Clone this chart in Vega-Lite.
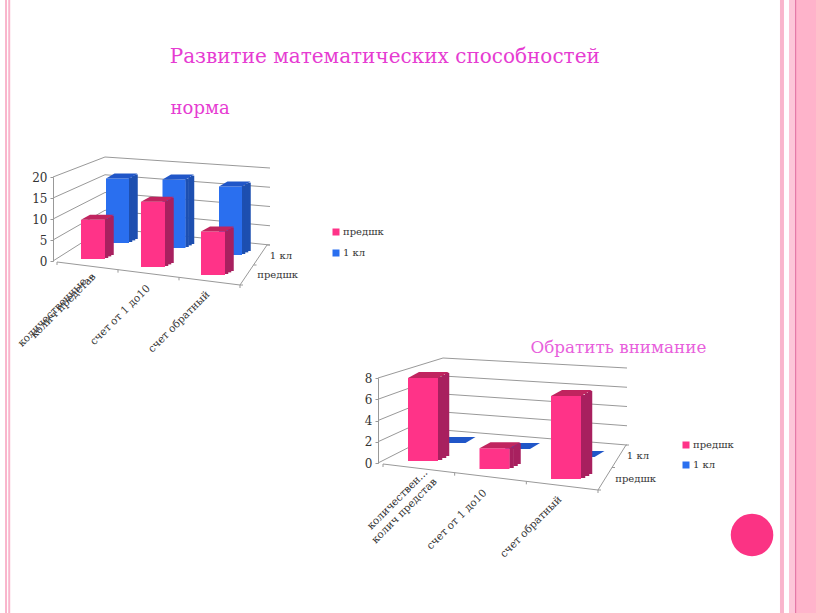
{"$schema":"https://vega.github.io/schema/vega-lite/v6.json","width":816,"height":613,"padding":0,"autosize":"none","background":"white","view":{"stroke":null},
"config":{"font":"DejaVu Serif","axis":{"labelFont":"DejaVu Serif"},"text":{"font":"DejaVu Serif"},"legend":{"labelFont":"DejaVu Serif"}},
"resolve":{"scale":{"x":"independent","y":"independent","color":"independent"},"axis":{"x":"independent","y":"independent"},"legend":{"color":"independent"}},
"datasets":{
"d1":[{"cat":"колич представ","series":"1 кл","value":17},{"cat":"счет от 1 до10","series":"1 кл","value":18},{"cat":"счет обратный","series":"1 кл","value":18},{"cat":"колич представ","series":"предшк","value":9},{"cat":"счет от 1 до10","series":"предшк","value":15},{"cat":"счет обратный","series":"предшк","value":10}],
"d2":[{"cat":"колич представ","series":"1 кл","value":0},{"cat":"счет от 1 до10","series":"1 кл","value":0},{"cat":"счет обратный","series":"1 кл","value":0},{"cat":"колич представ","series":"предшк","value":8},{"cat":"счет от 1 до10","series":"предшк","value":2},{"cat":"счет обратный","series":"предшк","value":8}],
"t1":[{"v":0},{"v":5},{"v":10},{"v":15},{"v":20}],
"t2":[{"v":0},{"v":2},{"v":4},{"v":6},{"v":8}],
"one":[{"k":1}],
"ft":[{"i":0},{"i":1},{"i":2},{"i":3}],
"dt":[{"i":0},{"i":1},{"i":2}],
"l1":[{"cat":"колич представ","label":"количественные...|колич представ"},{"cat":"счет от 1 до10","label":"счет от 1 до10"},{"cat":"счет обратный","label":"счет обратный"}],
"l2":[{"cat":"колич представ","label":"количествен...|колич представ"},{"cat":"счет от 1 до10","label":"счет от 1 до10"},{"cat":"счет обратный","label":"счет обратный"}],
"depth":[{"s":"1 кл"},{"s":"предшк"}]
},
"layer":[
{"data":{"name":"one"},"mark":{"type":"rule","color":"#F9B5CC","strokeWidth":4},"encoding":{"x":{"datum":95.83,"scale":{"domain":[0,100],"range":[0,816]},"axis":null}}},
{"data":{"name":"one"},"mark":{"type":"rule","color":"#FDC6D8","strokeWidth":6},"encoding":{"x":{"datum":97.06,"scale":{"domain":[0,100],"range":[0,816]},"axis":null}}},
{"data":{"name":"one"},"mark":{"type":"rule","color":"#FFB3CB","strokeWidth":21},"encoding":{"x":{"datum":98.8,"scale":{"domain":[0,100],"range":[0,816]},"axis":null}}},
{"data":{"name":"one"},"mark":{"type":"rule","color":"#E57AA8","strokeWidth":1.2},"encoding":{"x":{"datum":97.5,"scale":{"domain":[0,100],"range":[0,816]},"axis":null}}},
{"data":{"name":"one"},"mark":{"type":"rule","color":"#F9B5CC","strokeWidth":2},"encoding":{"x":{"datum":0.74,"scale":{"domain":[0,100],"range":[0,816]},"axis":null}}},
{"data":{"name":"one"},"mark":{"type":"rule","color":"#F9B5CC","strokeWidth":2},"encoding":{"x":{"datum":1.13,"scale":{"domain":[0,100],"range":[0,816]},"axis":null}}},
{"data":{"name":"one"},"mark":{"type":"point","filled":true,"opacity":1,"size":1810,"shape":"circle","color":"#FB3384"},"encoding":{"x":{"datum":92.16,"scale":{"domain":[0,100],"range":[0,816]},"axis":null},"y":{"datum":87.27,"scale":{"domain":[0,100],"range":[0,613]},"axis":null}}},
{"data":{"values":[{"t":"Развитие математических способностей"}]},"mark":{"type":"text","align":"left","baseline":"middle","fontSize":20,"color":"#E63CD2"},"encoding":{"text":{"field":"t"},"x":{"datum":20.8,"scale":{"domain":[0,100],"range":[0,816]},"axis":null},"y":{"datum":9.3,"scale":{"domain":[0,100],"range":[0,613]},"axis":null}}},
{"data":{"values":[{"t":"норма"}]},"mark":{"type":"text","align":"left","baseline":"middle","fontSize":18,"color":"#E63CD2"},"encoding":{"text":{"field":"t"},"x":{"datum":20.9,"scale":{"domain":[0,100],"range":[0,816]},"axis":null},"y":{"datum":17.8,"scale":{"domain":[0,100],"range":[0,613]},"axis":null}}},
{"data":{"values":[{"t":"Обратить внимание"}]},"mark":{"type":"text","align":"left","baseline":"middle","fontSize":16.8,"color":"#E85FDC"},"encoding":{"text":{"field":"t"},"x":{"datum":65.0,"scale":{"domain":[0,100],"range":[0,816]},"axis":null},"y":{"datum":56.8,"scale":{"domain":[0,100],"range":[0,613]},"axis":null}}},

{"data":{"name":"t1"},"mark":{"type":"rule","color":"#999","strokeWidth":1,"y2Offset":{"expr":"-33+0.65*datum.v"}},"encoding":{"x":{"datum":0,"scale":{"domain":[0,1],"range":[53,105]},"axis":null},"x2":{"datum":1},"y":{"field":"v","type":"quantitative","scale":{"domain":[0,20],"range":[261,177]},"axis":{"orient":"left","offset":-53,"values":[0,5,10,15,20],"title":null,"grid":false,"tickSize":3,"tickColor":"#999","domainColor":"#999","labelColor":"#333","labelFontSize":12,"labelPadding":3}},"y2":{"field":"v"}}},
{"data":{"name":"t1"},"mark":{"type":"rule","color":"#999","strokeWidth":1,"y2Offset":{"expr":"17-0.3*datum.v"}},"encoding":{"x":{"datum":0,"scale":{"domain":[0,1],"range":[105,270]},"axis":null},"x2":{"datum":1},"y":{"field":"v","type":"quantitative","scale":{"domain":[0,20],"range":[228,157]},"axis":null},"y2":{"field":"v"}}},
{"data":{"name":"one"},"mark":{"type":"rule","color":"#999","strokeWidth":1},"encoding":{"x":{"datum":0,"scale":{"domain":[0,1],"range":[57,240]},"axis":null},"x2":{"datum":1},"y":{"datum":0,"scale":{"domain":[0,1],"range":[262,285]},"axis":null},"y2":{"datum":1}}},
{"data":{"name":"one"},"mark":{"type":"rule","color":"#999","strokeWidth":1},"encoding":{"x":{"datum":0,"scale":{"domain":[0,1],"range":[240,267]},"axis":null},"x2":{"datum":1},"y":{"datum":0,"scale":{"domain":[0,1],"range":[285,245]},"axis":null},"y2":{"datum":1}}},
{"data":{"name":"ft"},"mark":{"type":"rule","color":"#999","strokeWidth":1,"y2Offset":3},"encoding":{"x":{"field":"i","type":"quantitative","scale":{"domain":[0,3],"range":[57,240]},"axis":null},"y":{"field":"i","type":"quantitative","scale":{"domain":[0,3],"range":[262,285]},"axis":null},"y2":{"field":"i"}}},
{"data":{"name":"dt"},"mark":{"type":"rule","color":"#999","strokeWidth":1,"x2Offset":3},"encoding":{"y":{"field":"i","type":"quantitative","scale":{"domain":[0,2],"range":[285,245]},"axis":null},"x":{"field":"i","type":"quantitative","scale":{"domain":[0,2],"range":[240,267]},"axis":null},"x2":{"field":"i"}}},

{"data":{"name":"d1"},"transform":[{"filter":"datum.series=='1 кл'"}],"mark":{"type":"bar","width":3.5,"color":"#1D4FB0","xOffset":13,"yOffset":{"expr":"-1+(datum.cat=='счет от 1 до10'?5:datum.cat=='счет обратный'?12:0)"},"y2Offset":{"expr":"-1+(datum.cat=='счет от 1 до10'?5:datum.cat=='счет обратный'?12:0)"}},"encoding":{"x":{"field":"cat","type":"nominal","sort":null,"scale":{"type":"point","padding":0,"domain":["колич представ","счет от 1 до10","счет обратный"],"range":[117.5,230.5]},"axis":null},"y":{"field":"value","type":"quantitative","stack":null,"scale":{"domain":[0,20],"range":[243,167]},"axis":null},"y2":{"datum":0}}},
{"data":{"name":"d1"},"transform":[{"filter":"datum.series=='1 кл'"}],"mark":{"type":"bar","width":3.5,"color":"#1D4FB0","xOffset":16,"yOffset":{"expr":"-2.6+(datum.cat=='счет от 1 до10'?5:datum.cat=='счет обратный'?12:0)"},"y2Offset":{"expr":"-2.6+(datum.cat=='счет от 1 до10'?5:datum.cat=='счет обратный'?12:0)"}},"encoding":{"x":{"field":"cat","type":"nominal","sort":null,"scale":{"type":"point","padding":0,"domain":["колич представ","счет от 1 до10","счет обратный"],"range":[117.5,230.5]},"axis":null},"y":{"field":"value","type":"quantitative","stack":null,"scale":{"domain":[0,20],"range":[243,167]},"axis":null},"y2":{"datum":0}}},
{"data":{"name":"d1"},"transform":[{"filter":"datum.series=='1 кл'"}],"mark":{"type":"bar","width":3.5,"color":"#1D4FB0","xOffset":18.5,"yOffset":{"expr":"-4+(datum.cat=='счет от 1 до10'?5:datum.cat=='счет обратный'?12:0)"},"y2Offset":{"expr":"-4+(datum.cat=='счет от 1 до10'?5:datum.cat=='счет обратный'?12:0)"}},"encoding":{"x":{"field":"cat","type":"nominal","sort":null,"scale":{"type":"point","padding":0,"domain":["колич представ","счет от 1 до10","счет обратный"],"range":[117.5,230.5]},"axis":null},"y":{"field":"value","type":"quantitative","stack":null,"scale":{"domain":[0,20],"range":[243,167]},"axis":null},"y2":{"datum":0}}},
{"data":{"name":"d1"},"transform":[{"filter":"datum.series=='1 кл'"}],"mark":{"type":"bar","width":23,"yOffset":{"expr":"(datum.cat=='счет от 1 до10'?5:datum.cat=='счет обратный'?12:0)"},"y2Offset":{"expr":"(datum.cat=='счет от 1 до10'?5:datum.cat=='счет обратный'?12:0)"}},"encoding":{"x":{"field":"cat","type":"nominal","sort":null,"scale":{"type":"point","padding":0,"domain":["колич представ","счет от 1 до10","счет обратный"],"range":[117.5,230.5]},"axis":null},"y":{"field":"value","type":"quantitative","stack":null,"scale":{"domain":[0,20],"range":[243,167]},"axis":null},"y2":{"datum":0},"color":{"field":"series","type":"nominal","scale":{"domain":["предшк","1 кл"],"range":["#FF3388","#2A6FEF"]},"legend":null}}},
{"data":{"name":"d1"},"transform":[{"filter":"datum.series=='1 кл'"}],"mark":{"type":"point","filled":true,"opacity":1,"size":400,"color":"#2056C8","shape":"M-1.15 0 L1.15 0 L2 -.5 L-.3 -.5 Z","yOffset":{"expr":"(datum.cat=='счет от 1 до10'?5:datum.cat=='счет обратный'?12:0)"}},"encoding":{"x":{"field":"cat","type":"nominal","sort":null,"scale":{"type":"point","padding":0,"domain":["колич представ","счет от 1 до10","счет обратный"],"range":[117.5,230.5]},"axis":null},"y":{"field":"value","type":"quantitative","stack":null,"scale":{"domain":[0,20],"range":[243,167]},"axis":null}}},

{"data":{"name":"d1"},"transform":[{"filter":"datum.series=='предшк'"}],"mark":{"type":"bar","width":3.5,"color":"#A8205F","xOffset":13.5,"yOffset":{"expr":"-1+(datum.cat=='счет от 1 до10'?8:datum.cat=='счет обратный'?16:0)"},"y2Offset":{"expr":"-1+(datum.cat=='счет от 1 до10'?8:datum.cat=='счет обратный'?16:0)"}},"encoding":{"x":{"field":"cat","type":"nominal","sort":null,"scale":{"type":"point","padding":0,"domain":["колич представ","счет от 1 до10","счет обратный"],"range":[93,213]},"axis":null},"y":{"field":"value","type":"quantitative","stack":null,"scale":{"domain":[0,20],"range":[259,172]},"axis":null},"y2":{"datum":0}}},
{"data":{"name":"d1"},"transform":[{"filter":"datum.series=='предшк'"}],"mark":{"type":"bar","width":3.5,"color":"#A8205F","xOffset":16.5,"yOffset":{"expr":"-2.6+(datum.cat=='счет от 1 до10'?8:datum.cat=='счет обратный'?16:0)"},"y2Offset":{"expr":"-2.6+(datum.cat=='счет от 1 до10'?8:datum.cat=='счет обратный'?16:0)"}},"encoding":{"x":{"field":"cat","type":"nominal","sort":null,"scale":{"type":"point","padding":0,"domain":["колич представ","счет от 1 до10","счет обратный"],"range":[93,213]},"axis":null},"y":{"field":"value","type":"quantitative","stack":null,"scale":{"domain":[0,20],"range":[259,172]},"axis":null},"y2":{"datum":0}}},
{"data":{"name":"d1"},"transform":[{"filter":"datum.series=='предшк'"}],"mark":{"type":"bar","width":3.5,"color":"#A8205F","xOffset":19,"yOffset":{"expr":"-4+(datum.cat=='счет от 1 до10'?8:datum.cat=='счет обратный'?16:0)"},"y2Offset":{"expr":"-4+(datum.cat=='счет от 1 до10'?8:datum.cat=='счет обратный'?16:0)"}},"encoding":{"x":{"field":"cat","type":"nominal","sort":null,"scale":{"type":"point","padding":0,"domain":["колич представ","счет от 1 до10","счет обратный"],"range":[93,213]},"axis":null},"y":{"field":"value","type":"quantitative","stack":null,"scale":{"domain":[0,20],"range":[259,172]},"axis":null},"y2":{"datum":0}}},
{"data":{"name":"d1"},"transform":[{"filter":"datum.series=='предшк'"}],"mark":{"type":"bar","width":24,"yOffset":{"expr":"(datum.cat=='счет от 1 до10'?8:datum.cat=='счет обратный'?16:0)"},"y2Offset":{"expr":"(datum.cat=='счет от 1 до10'?8:datum.cat=='счет обратный'?16:0)"}},"encoding":{"x":{"field":"cat","type":"nominal","sort":null,"scale":{"type":"point","padding":0,"domain":["колич представ","счет от 1 до10","счет обратный"],"range":[93,213]},"axis":null},"y":{"field":"value","type":"quantitative","stack":null,"scale":{"domain":[0,20],"range":[259,172]},"axis":null},"y2":{"datum":0},"color":{"field":"series","type":"nominal","scale":{"domain":["предшк","1 кл"],"range":["#FF3388","#2A6FEF"]},"legend":{"orient":"none","legendX":331,"legendY":227,"title":null,"symbolType":"square","symbolSize":49,"labelFontSize":10,"labelColor":"#333","rowPadding":11,"labelOffset":2}}}},
{"data":{"name":"d1"},"transform":[{"filter":"datum.series=='предшк'"}],"mark":{"type":"point","filled":true,"opacity":1,"size":400,"color":"#C0245F","shape":"M-1.2 0 L1.2 0 L2.1 -.5 L-.3 -.5 Z","yOffset":{"expr":"(datum.cat=='счет от 1 до10'?8:datum.cat=='счет обратный'?16:0)"}},"encoding":{"x":{"field":"cat","type":"nominal","sort":null,"scale":{"type":"point","padding":0,"domain":["колич представ","счет от 1 до10","счет обратный"],"range":[93,213]},"axis":null},"y":{"field":"value","type":"quantitative","stack":null,"scale":{"domain":[0,20],"range":[259,172]},"axis":null}}},

{"data":{"name":"l1"},"mark":{"type":"text","angle":-45,"align":"right","baseline":"middle","fontSize":10.5,"lineBreak":"|","lineHeight":3,"color":"#333","xOffset":{"expr":"datum.cat=='колич представ'?3:0"},"yOffset":{"expr":"datum.cat=='счет от 1 до10'?4:0"}},"encoding":{"text":{"field":"label"},"x":{"field":"cat","type":"nominal","sort":null,"scale":{"type":"point","padding":0,"domain":["колич представ","счет от 1 до10","счет обратный"],"range":[89,208]},"axis":null},"y":{"field":"cat","type":"nominal","sort":null,"scale":{"type":"point","padding":0,"domain":["колич представ","счет от 1 до10","счет обратный"],"range":[273,293]},"axis":null}}},
{"data":{"name":"depth"},"mark":{"type":"text","align":"right","baseline":"middle","fontSize":10,"color":"#333"},"encoding":{"text":{"field":"s"},"x":{"field":"s","type":"nominal","sort":null,"scale":{"type":"point","padding":0,"domain":["1 кл","предшк"],"range":[292,298]},"axis":null},"y":{"field":"s","type":"nominal","sort":null,"scale":{"type":"point","padding":0,"domain":["1 кл","предшк"],"range":[256,275]},"axis":null}}},

{"data":{"name":"t2"},"mark":{"type":"rule","color":"#999","strokeWidth":1,"y2Offset":{"expr":"-33+1.625*datum.v"}},"encoding":{"x":{"datum":0,"scale":{"domain":[0,1],"range":[378,443]},"axis":null},"x2":{"datum":1},"y":{"field":"v","type":"quantitative","scale":{"domain":[0,8],"range":[463,378]},"axis":{"orient":"left","offset":-378,"values":[0,2,4,6,8],"title":null,"grid":false,"tickSize":3,"tickColor":"#999","domainColor":"#999","labelColor":"#333","labelFontSize":12,"labelPadding":3}},"y2":{"field":"v"}}},
{"data":{"name":"t2"},"mark":{"type":"rule","color":"#999","strokeWidth":1,"y2Offset":{"expr":"15-0.625*datum.v"}},"encoding":{"x":{"datum":0,"scale":{"domain":[0,1],"range":[443,627]},"axis":null},"x2":{"datum":1},"y":{"field":"v","type":"quantitative","scale":{"domain":[0,8],"range":[430,358]},"axis":null},"y2":{"field":"v"}}},
{"data":{"name":"one"},"mark":{"type":"rule","color":"#999","strokeWidth":1},"encoding":{"x":{"datum":0,"scale":{"domain":[0,1],"range":[383,598]},"axis":null},"x2":{"datum":1},"y":{"datum":0,"scale":{"domain":[0,1],"range":[464,490]},"axis":null},"y2":{"datum":1}}},
{"data":{"name":"one"},"mark":{"type":"rule","color":"#999","strokeWidth":1},"encoding":{"x":{"datum":0,"scale":{"domain":[0,1],"range":[598,626]},"axis":null},"x2":{"datum":1},"y":{"datum":0,"scale":{"domain":[0,1],"range":[490,445]},"axis":null},"y2":{"datum":1}}},
{"data":{"name":"ft"},"mark":{"type":"rule","color":"#999","strokeWidth":1,"y2Offset":3},"encoding":{"x":{"field":"i","type":"quantitative","scale":{"domain":[0,3],"range":[383,598]},"axis":null},"y":{"field":"i","type":"quantitative","scale":{"domain":[0,3],"range":[464,490]},"axis":null},"y2":{"field":"i"}}},
{"data":{"name":"dt"},"mark":{"type":"rule","color":"#999","strokeWidth":1,"x2Offset":3},"encoding":{"y":{"field":"i","type":"quantitative","scale":{"domain":[0,2],"range":[490,445]},"axis":null},"x":{"field":"i","type":"quantitative","scale":{"domain":[0,2],"range":[598,626]},"axis":null},"x2":{"field":"i"}}},

{"data":{"name":"d2"},"transform":[{"filter":"datum.series=='1 кл'"}],"mark":{"type":"point","filled":true,"opacity":1,"size":400,"color":"#2056C8","shape":"M-1.25 0 L1.25 0 L2.25 -.6 L-1 -.6 Z","yOffset":{"expr":"(datum.cat=='счет от 1 до10'?6:datum.cat=='счет обратный'?14:0)"}},"encoding":{"x":{"field":"cat","type":"nominal","sort":null,"scale":{"type":"point","padding":0,"domain":["колич представ","счет от 1 до10","счет обратный"],"range":[453,582]},"axis":null},"y":{"field":"value","type":"quantitative","stack":null,"scale":{"domain":[0,8],"range":[443,360]},"axis":null}}},

{"data":{"name":"d2"},"transform":[{"filter":"datum.series=='предшк'"}],"mark":{"type":"bar","width":4.5,"color":"#A8205F","xOffset":17,"yOffset":{"expr":"-1+(datum.cat=='счет от 1 до10'?8:datum.cat=='счет обратный'?18:0)"},"y2Offset":{"expr":"-1+(datum.cat=='счет от 1 до10'?8:datum.cat=='счет обратный'?18:0)"}},"encoding":{"x":{"field":"cat","type":"nominal","sort":null,"scale":{"type":"point","padding":0,"domain":["колич представ","счет от 1 до10","счет обратный"],"range":[423,566]},"axis":null},"y":{"field":"value","type":"quantitative","stack":null,"scale":{"domain":[0,8],"range":[461,378]},"axis":null},"y2":{"datum":0}}},
{"data":{"name":"d2"},"transform":[{"filter":"datum.series=='предшк'"}],"mark":{"type":"bar","width":4.5,"color":"#A8205F","xOffset":21,"yOffset":{"expr":"-3+(datum.cat=='счет от 1 до10'?8:datum.cat=='счет обратный'?18:0)"},"y2Offset":{"expr":"-3+(datum.cat=='счет от 1 до10'?8:datum.cat=='счет обратный'?18:0)"}},"encoding":{"x":{"field":"cat","type":"nominal","sort":null,"scale":{"type":"point","padding":0,"domain":["колич представ","счет от 1 до10","счет обратный"],"range":[423,566]},"axis":null},"y":{"field":"value","type":"quantitative","stack":null,"scale":{"domain":[0,8],"range":[461,378]},"axis":null},"y2":{"datum":0}}},
{"data":{"name":"d2"},"transform":[{"filter":"datum.series=='предшк'"}],"mark":{"type":"bar","width":4.5,"color":"#A8205F","xOffset":24,"yOffset":{"expr":"-5+(datum.cat=='счет от 1 до10'?8:datum.cat=='счет обратный'?18:0)"},"y2Offset":{"expr":"-5+(datum.cat=='счет от 1 до10'?8:datum.cat=='счет обратный'?18:0)"}},"encoding":{"x":{"field":"cat","type":"nominal","sort":null,"scale":{"type":"point","padding":0,"domain":["колич представ","счет от 1 до10","счет обратный"],"range":[423,566]},"axis":null},"y":{"field":"value","type":"quantitative","stack":null,"scale":{"domain":[0,8],"range":[461,378]},"axis":null},"y2":{"datum":0}}},
{"data":{"name":"d2"},"transform":[{"filter":"datum.series=='предшк'"}],"mark":{"type":"bar","width":30,"yOffset":{"expr":"(datum.cat=='счет от 1 до10'?8:datum.cat=='счет обратный'?18:0)"},"y2Offset":{"expr":"(datum.cat=='счет от 1 до10'?8:datum.cat=='счет обратный'?18:0)"}},"encoding":{"x":{"field":"cat","type":"nominal","sort":null,"scale":{"type":"point","padding":0,"domain":["колич представ","счет от 1 до10","счет обратный"],"range":[423,566]},"axis":null},"y":{"field":"value","type":"quantitative","stack":null,"scale":{"domain":[0,8],"range":[461,378]},"axis":null},"y2":{"datum":0},"color":{"field":"series","type":"nominal","scale":{"domain":["предшк","1 кл"],"range":["#FF3388","#2A6FEF"]},"legend":{"orient":"none","legendX":681,"legendY":440,"title":null,"symbolType":"square","symbolSize":49,"labelFontSize":10,"labelColor":"#333","rowPadding":10,"labelOffset":2}}}},
{"data":{"name":"d2"},"transform":[{"filter":"datum.series=='предшк'"}],"mark":{"type":"point","filled":true,"opacity":1,"size":400,"color":"#C0245F","shape":"M-1.5 0 L1.5 0 L2.6 -.6 L-.4 -.6 Z","yOffset":{"expr":"(datum.cat=='счет от 1 до10'?8:datum.cat=='счет обратный'?18:0)"}},"encoding":{"x":{"field":"cat","type":"nominal","sort":null,"scale":{"type":"point","padding":0,"domain":["колич представ","счет от 1 до10","счет обратный"],"range":[423,566]},"axis":null},"y":{"field":"value","type":"quantitative","stack":null,"scale":{"domain":[0,8],"range":[461,378]},"axis":null}}},

{"data":{"name":"l2"},"mark":{"type":"text","angle":-45,"align":"right","baseline":"middle","fontSize":10.5,"lineBreak":"|","lineHeight":13,"color":"#333","xOffset":{"expr":"datum.cat=='счет от 1 до10'?-8:0"},"yOffset":{"expr":"datum.cat=='счет от 1 до10'?7:0"}},"encoding":{"text":{"field":"label"},"x":{"field":"cat","type":"nominal","sort":null,"scale":{"type":"point","padding":0,"domain":["колич представ","счет от 1 до10","счет обратный"],"range":[426,560]},"axis":null},"y":{"field":"cat","type":"nominal","sort":null,"scale":{"type":"point","padding":0,"domain":["колич представ","счет от 1 до10","счет обратный"],"range":[471,498]},"axis":null}}},
{"data":{"name":"depth"},"mark":{"type":"text","align":"right","baseline":"middle","fontSize":10,"color":"#333"},"encoding":{"text":{"field":"s"},"x":{"field":"s","type":"nominal","sort":null,"scale":{"type":"point","padding":0,"domain":["1 кл","предшк"],"range":[649,656]},"axis":null},"y":{"field":"s","type":"nominal","sort":null,"scale":{"type":"point","padding":0,"domain":["1 кл","предшк"],"range":[456,479]},"axis":null}}}
]}
